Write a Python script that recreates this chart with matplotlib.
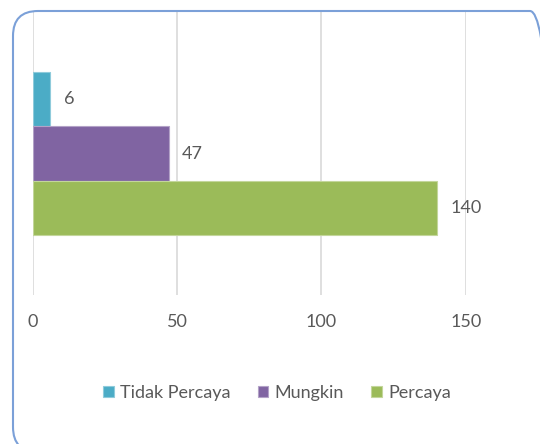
import matplotlib
matplotlib.use("Agg")
import matplotlib.pyplot as plt
from matplotlib.patches import FancyBboxPatch

series = ["Tidak Percaya", "Mungkin", "Percaya"]
values = [6, 47, 140]
colors = ["#4BACC6", "#8064A2", "#9BBB59"]
edge_colors = ["#8FCBDB", "#B3A2C7", "#C3D69B"]
xticks = [0, 50, 100, 150]

plt.rcParams['font.family'] = ['Lato', 'DejaVu Sans']
txt = "#595959"
fs = 13

fig = plt.figure(figsize=(5.4, 4.44), dpi=100)
ax = fig.add_axes([33/540, 149/444, (465.7-33)/540, (432-149)/444])

h = 0.1926
positions = [h, 0, -h]
for name, v, c, ec, y in zip(series, values, colors, edge_colors, positions):
    ax.barh(y, v, height=h, color=c, edgecolor=ec, linewidth=0.8, label=name, zorder=3)
    ax.annotate(str(v), xy=(v, y), xytext=(9.5, 0), textcoords="offset points",
                ha="left", va="center", fontsize=fs, color=txt)

ax.set_xlim(0, 150)
ax.set_ylim(-0.5, 0.5)
ax.set_xticks(xticks)
ax.set_yticks([])
ax.grid(axis="x", color="#D9D9D9", linewidth=1.2, zorder=0)
for s in ax.spines.values():
    s.set_visible(False)
ax.tick_params(axis="x", length=0, pad=14, labelsize=fs, labelcolor=txt)

leg = fig.legend(loc="center", bbox_to_anchor=(0.513, 0.115), ncol=3, frameon=False,
                 fontsize=fs, handlelength=0.6, handleheight=0.6, handletextpad=0.35,
                 columnspacing=1.5)
for t in leg.get_texts():
    t.set_color(txt)

box = FancyBboxPatch((13, -8), 555-13, 433+8, boxstyle="round,pad=0,rounding_size=25",
                     transform=None, fill=False, edgecolor="#7BA0D8", linewidth=1.5,
                     figure=fig)
fig.patches.append(box)

fig.savefig("out.png", dpi=100)
